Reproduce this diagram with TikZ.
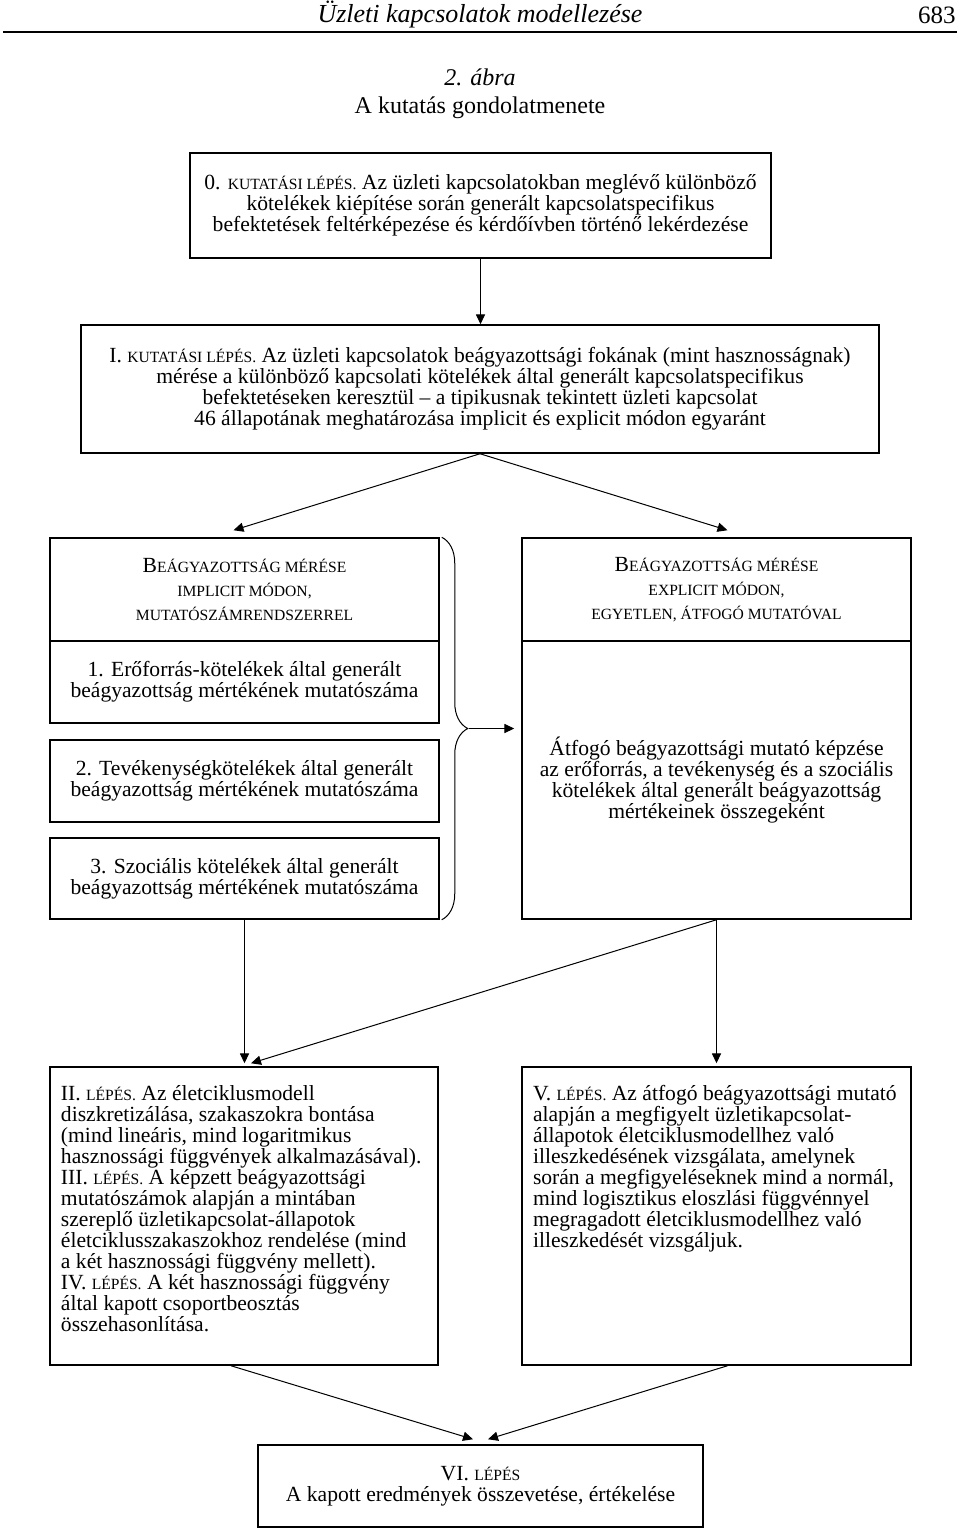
\documentclass[tikz,border=0pt]{standalone}
\usepackage{fontspec}
\setmainfont{Liberation Serif}
\usetikzlibrary{arrows.meta,calc,decorations.pathreplacing}

\newcommand{\kis}[1]{{\fontsize{7.8}{7.8}\selectfont #1}}

\begin{document}
\begin{tikzpicture}[x=0.5pt,y=-0.5pt,
  box/.style={draw,line width=0.75pt,inner sep=0pt,align=center,font=\fontsize{10.8}{10.5}\selectfont},
  fej/.style={box,font=\fontsize{10.8}{12}\selectfont},
  arr/.style={-{Triangle[length=5pt,width=4.6pt]},line width=0.5pt}]
\useasboundingbox (0,0) rectangle (960,1531);
\node (cim) at (480,15) {\fontsize{13}{13}\selectfont\itshape Üzleti kapcsolatok modellezése};
\node[anchor=east,inner sep=0pt] (oldal) at (956,15) {\fontsize{12.5}{12.5}\selectfont 683};
\draw[line width=0.9pt] (3,32) -- (957,32);
\node (abra) at (480,77) {\fontsize{12}{12}\selectfont\itshape 2. ábra};
\node (abracim) at (480,108) {\fontsize{12}{12}\selectfont A kutatás gondolatmenete};
\node[box,minimum width=290.5pt,minimum height=52.5pt] (step0) at (480.5,205.5)
  {0. \kis{KUTATÁSI LÉPÉS.} Az üzleti kapcsolatokban meglévő különböző\\
   kötelékek kiépítése során generált kapcsolatspecifikus\\
   befektetések feltérképezése és kérdőívben történő lekérdezése};
\node[box,minimum width=399pt,minimum height=64pt] (stepI) at (480,389)
  {I. \kis{KUTATÁSI LÉPÉS.} Az üzleti kapcsolatok beágyazottsági fokának (mint hasznosságnak)\\
   mérése a különböző kapcsolati kötelékek által generált kapcsolatspecifikus\\
   befektetéseken keresztül – a tipikusnak tekintett üzleti kapcsolat\\
   46 állapotának meghatározása implicit és explicit módon egyaránt};
\node[fej,minimum width=194.5pt,minimum height=51.5pt] (implhead) at (244.5,589.5)
  {B\kis{EÁGYAZOTTSÁG MÉRÉSE}\\ \kis{IMPLICIT MÓDON,}\\ \kis{MUTATÓSZÁMRENDSZERREL}};
\node[box,minimum width=194.5pt,minimum height=41pt] (impl1) at (244.5,682)
  {1. Erőforrás-kötelékek által generált\\ beágyazottság mértékének mutatószáma};
\node[box,minimum width=194.5pt,minimum height=41pt] (impl2) at (244.5,781)
  {2. Tevékenységkötelékek által generált\\ beágyazottság mértékének mutatószáma};
\node[box,minimum width=194.5pt,minimum height=40.5pt] (impl3) at (244.5,878.5)
  {3. Szociális kötelékek által generált\\ beágyazottság mértékének mutatószáma};
\node[fej,minimum width=194.5pt,minimum height=51.5pt] (explhead) at (716.5,589.5)
  {B\kis{EÁGYAZOTTSÁG MÉRÉSE}\\ \kis{EXPLICIT MÓDON,}\\ \kis{EGYETLEN, ÁTFOGÓ MUTATÓVAL}};
\node[box,minimum width=194.5pt,minimum height=139pt] (explbody) at (716.5,780)
  {Átfogó beágyazottsági mutató képzése\\ az erőforrás, a tevékenység és a szociális\\
   kötelékek által generált beágyazottság\\ mértékeinek összegeként};
\node[box,inner xsep=5.5pt,inner ysep=9pt] (stepII) at (244,1216)
  {\parbox[c][131pt][t]{183pt}{\raggedright
   II. \kis{LÉPÉS.} Az életciklusmodell\\
   diszkretizálása, szakaszokra bontása\\
   (mind lineáris, mind logaritmikus\\
   hasznossági függvények alkalmazásával).\\
   III. \kis{LÉPÉS.} A képzett beágyazottsági\\
   mutatószámok alapján a mintában\\
   szereplő üzletikapcsolat-állapotok\\
   életciklusszakaszokhoz rendelése (mind\\
   a két hasznossági függvény mellett).\\
   IV. \kis{LÉPÉS.} A két hasznossági függvény\\
   által kapott csoportbeosztás\\
   összehasonlítása.}};
\node[box,inner xsep=5.5pt,inner ysep=9pt] (stepV) at (716.5,1216)
  {\parbox[c][131pt][t]{183.5pt}{\raggedright
   V. \kis{LÉPÉS.} Az átfogó beágyazottsági mutató\\
   alapján a megfigyelt üzletikapcsolat-\\
   állapotok életciklusmodellhez való\\
   illeszkedésének vizsgálata, amelynek\\
   során a megfigyeléseknek mind a normál,\\
   mind logisztikus eloszlási függvénnyel\\
   megragadott életciklusmodellhez való\\
   illeszkedését vizsgáljuk.}};
\node[box,minimum width=222.5pt,minimum height=41pt] (stepVI) at (480.5,1486)
  {VI. \kis{LÉPÉS}\\ A kapott eredmények összevetése, értékelése};
\draw[decorate,decoration={brace,amplitude=13pt},line width=0.5pt]
  ($(implhead.north east)+(2,0)$) -- ($(impl3.south east)+(2,0)$);
\coordinate (kapocs) at ($(implhead.north east)!0.5!(impl3.south east)+(29,0)$);
\draw[arr] (step0.south) -- (step0.south |- stepI.north);
\draw[arr] (stepI.south) -- ($(implhead.north)+(-11,-7)$);
\draw[arr] (stepI.south) -- ($(explhead.north)+(11,-7)$);
\draw[arr,shorten >=3.5pt] (kapocs) -- (kapocs -| explbody.west);
\draw[arr,shorten >=1.5pt] (impl3.south) -- (impl3.south |- stepII.north);
\draw[arr] (explbody.south) -- ($(stepII.north)+(7,-3)$);
\draw[arr,shorten >=1.5pt] (explbody.south) -- (explbody.south |- stepV.north);
\draw[arr] ($(stepII.south)+(-13,0)$) -- ($(stepVI.north)+(-7.5,-5)$);
\draw[arr] ($(stepV.south)+(11,0)$) -- ($(stepVI.north)+(7.5,-5)$);
\end{tikzpicture}
\end{document}
